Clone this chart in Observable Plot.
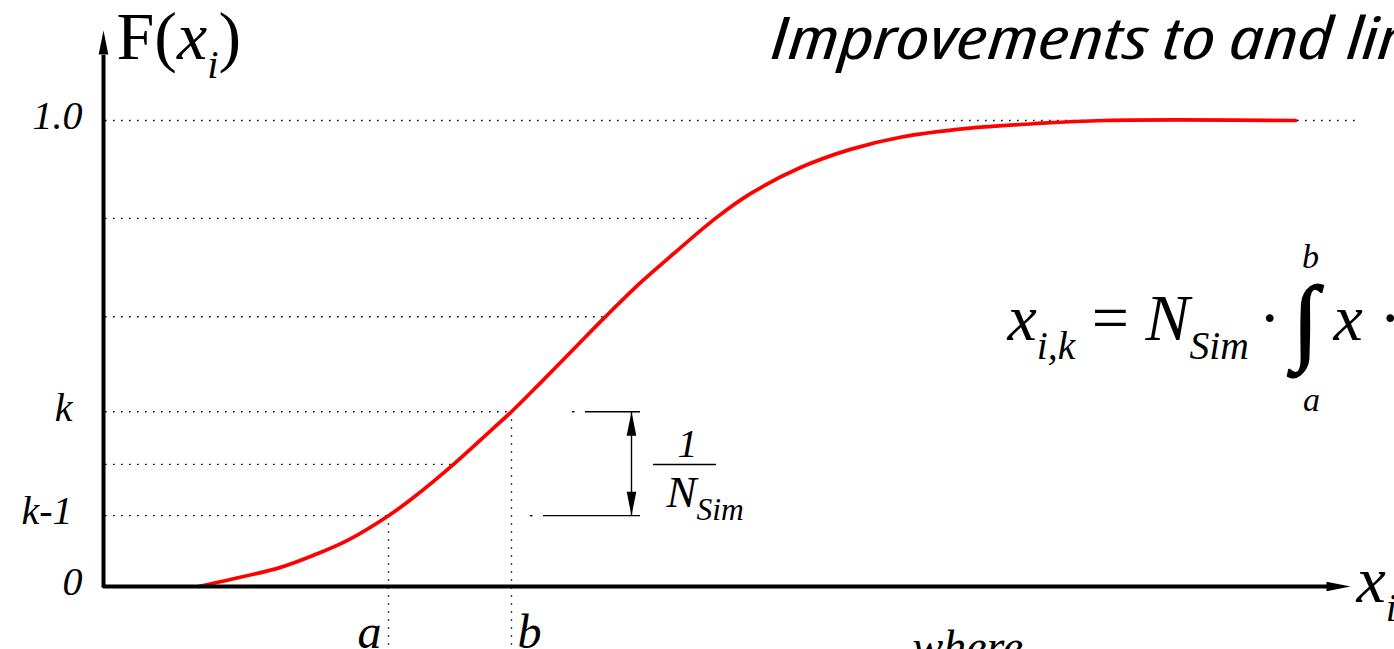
<!DOCTYPE html>
<html><head><meta charset="utf-8">
<script src="https://cdn.jsdelivr.net/npm/d3@7"></script>
<script src="https://cdn.jsdelivr.net/npm/@observablehq/plot@0.6"></script>
<style>
html,body{margin:0;padding:0;background:#fff;overflow:hidden;}
#chart{width:1394px;height:649px;}
svg text{white-space:pre;}
</style></head><body><div id="chart"></div>
<script>
// ---- data ----
// CDF curve F(x_i)
const curveX = [0.95, 1.27, 1.77, 2.10, 2.44, 2.85, 3.10, 3.50, 3.87, 4.08, 4.37, 4.70, 5.02, 5.37, 5.70, 6.12, 6.47, 6.97, 7.47, 7.97, 8.64, 9.30, 10.0, 11.92];
const curveF = [0, 0.015, 0.041, 0.067, 0.099, 0.152, 0.191, 0.262, 0.334, 0.375, 0.437, 0.509, 0.579, 0.652, 0.714, 0.790, 0.843, 0.899, 0.938, 0.964, 0.983, 0.993, 1.0, 1.0];
// dotted horizontal levels and where each ends
const levelF = [1.0, 0.790, 0.579, 0.375, 0.262, 0.152];
const levelEndX = [12.57, 6.12, 5.02, 4.08, 3.50, 2.85];
// y tick labels
const tickF = [1.0, 0.375, 0.152, 0];
const tickLabels = ["1.0", "k", "k-1", "0"];
// interval bounds on x
const boundX = [2.85, 4.08];
const boundF = [0.152, 0.375];
const boundLabels = ["a", "b"];
// 1/N_Sim measurement
const measureX = 5.28;
const measureTickF = [0.375, 0.152];
const measureTickStart = [4.82, 4.40];
const measureTickEnd = [5.37, 5.37];
const strayDotX = [4.69, 4.27];
// texts
const titleText = "Improvements to and lin";
const yAxisLabel = "F(<i>x</i><sub>i</sub>)";
const xAxisLabel = "<i>x</i><sub>i</sub>";
const formulaLeft = "<i>x</i><sub>i,k</sub> = <i>N</i><sub>Sim </sub>·";
const formulaRight = "<i>x</i> ·";
const fracTop = "1";
const fracBottom = "<i>N</i><sub>Sim</sub>";
const whereText = "where";

const curve = curveX.map((x, i) => ({x, f: curveF[i]}));
const levels = levelF.map((f, i) => ({f, end: levelEndX[i]}));
const ticks = tickF.map((f, i) => ({f, label: tickLabels[i]}));
const bounds = boundX.map((x, i) => ({x, f: boundF[i], label: boundLabels[i]}));
const mticks = measureTickF.map((f, i) => ({f, x1: measureTickStart[i], x2: measureTickEnd[i], dot: strayDotX[i]}));

const serif = "Liberation Serif, Times New Roman, serif";
const titleFont = "Open Sans, sans-serif";
const dotted = {stroke: "#000", strokeWidth: 1.4, strokeDasharray: "1.6,6.4"};
const head = {draw(ctx) { ctx.moveTo(0, 0); ctx.lineTo(-4.8, 24); ctx.lineTo(4.8, 24); ctx.closePath(); }};
const one = [0];
const txt = (s, opts) => Plot.text([s], {text: d => d, textAnchor: "start", lineAnchor: "bottom", fill: "#000", ...opts});
const tickStyle = {x: () => 0, y: "f", text: "label", textAnchor: "end", dy: -4, fontSize: 40, fontStyle: "italic", fill: "#000"};

const svg = Plot.plot({
  width: 1394, height: 649,
  marginTop: 0, marginRight: 0, marginBottom: 0, marginLeft: 0,
  x: {domain: [-1.03, 12.91], range: [0, 1394], axis: null},
  y: {domain: [0, 1], range: [586, 120], axis: null},
  style: {background: "transparent", overflow: "visible"},
  marks: [
    Plot.ruleY(levels, {y: "f", x1: () => 0.02, x2: "end", ...dotted}),
    Plot.ruleX(bounds, {x: "x", y1: "f", y2: () => -0.14, ...dotted}),
    Plot.line(curve, {x: "x", y: "f", stroke: "#ff0000", strokeWidth: 3.7, curve: "catmull-rom"}),
    // axes
    Plot.ruleY(one, {y: () => 0, x1: () => 0, x2: () => 12.3, stroke: "#000", strokeWidth: 4}),
    Plot.ruleX(one, {x: () => 0, y1: () => -0.004, y2: () => 1.14, stroke: "#000", strokeWidth: 4}),
    Plot.dot(one, {x: () => 0, y: () => 1.193, symbol: head, fill: "#000", stroke: "none"}),
    Plot.dot(one, {x: () => 12.47, y: () => 0, symbol: head, rotate: 90, fill: "#000", stroke: "none"}),
    // y tick labels
    Plot.text(ticks.filter(d => !d.label.startsWith("k")), {...tickStyle, dx: -21}),
    Plot.text(ticks.filter(d => d.label.startsWith("k")), {...tickStyle, dx: -31}),
    // a, b labels
    Plot.text(bounds.filter(d => d.label === "a"), {x: "x", y: () => -0.131, text: "label", textAnchor: "end", dx: -7, lineAnchor: "bottom", fontSize: 48, fontStyle: "italic", fill: "#000"}),
    Plot.text(bounds.filter(d => d.label === "b"), {x: "x", y: () => -0.131, text: "label", textAnchor: "start", dx: 6, lineAnchor: "bottom", fontSize: 48, fontStyle: "italic", fill: "#000"}),
    // measurement 1/N_Sim
    Plot.ruleY(mticks, {y: "f", x1: "x1", x2: "x2", stroke: "#000", strokeWidth: 1.4}),
    Plot.ruleY(mticks, {y: "f", x1: "dot", x2: d => d.dot + 0.025, stroke: "#000", strokeWidth: 1.4}),
    Plot.ruleX(one, {x: () => measureX, y1: () => 0.152, y2: () => 0.375, stroke: "#000", strokeWidth: 1.4}),
    Plot.dot(one, {x: () => measureX, y: () => 0.375, symbol: head, fill: "#000", stroke: "none"}),
    Plot.dot(one, {x: () => measureX, y: () => 0.152, symbol: head, rotate: 180, fill: "#000", stroke: "none"}),
    Plot.ruleY(one, {y: () => 0.262, x1: () => 5.50, x2: () => 6.13, stroke: "#000", strokeWidth: 1.5}),
    txt(fracTop, {x: () => 5.84, y: () => 0.277, textAnchor: "middle", fontSize: 40, fontStyle: "italic"}),
    txt(fracBottom, {x: () => 5.63, y: () => 0.170, fontSize: 45}),
    // axis labels
    txt(yAxisLabel, {x: () => 0.13, y: () => 1.133, fontSize: 68}),
    txt(xAxisLabel, {x: () => 12.53, y: () => -0.034, fontSize: 66}),
    // formula
    txt(formulaLeft, {x: () => 9.04, y: () => 0.528, fontSize: 66}),
    txt("∫", {x: () => 12.02, y: () => 0.503, textAnchor: "middle", fontSize: 95, stroke: "#000", strokeWidth: 1.6}),
    txt("b", {x: () => 12.07, y: () => 0.684, textAnchor: "middle", fontSize: 34, fontStyle: "italic"}),
    txt("a", {x: () => 12.08, y: () => 0.376, textAnchor: "middle", fontSize: 34, fontStyle: "italic"}),
    txt(formulaRight, {x: () => 12.30, y: () => 0.528, fontSize: 66}),
    // title and footer text
    txt(titleText, {x: () => 6.68, y: () => 1.133, fontSize: 59, fontStyle: "italic"}),
    txt(whereText, {x: () => 8.09, y: () => -0.161, fontSize: 46, fontStyle: "italic"})
  ]
});
document.getElementById("chart").appendChild(svg);

// fonts set inline on each text
svg.querySelectorAll("text").forEach(t => {
  if (t.textContent === titleText) {
    t.style.fontFamily = titleFont;
    t.style.fontStretch = "87.5%";
    t.setAttribute("textLength", 640);
    t.setAttribute("lengthAdjust", "spacingAndGlyphs");
  } else {
    t.style.fontFamily = serif;
  }
});

// turn the small markup into tspans (italic / subscript)
const subScale = new Map([[fracBottom, 0.7]]);
function richify(root) {
  root.querySelectorAll("text").forEach(t => {
    const s = t.textContent;
    if (!s.includes("<")) return;
    const fs = parseFloat(getComputedStyle(t).fontSize) || 16;
    const k = subScale.get(s) || 0.6;
    while (t.firstChild) t.removeChild(t.firstChild);
    const re = /<(i|sub|sup)>([\s\S]*?)<\/\1>|([^<]+)/g;
    let m, cur = 0;
    while ((m = re.exec(s))) {
      const ts = document.createElementNS("http://www.w3.org/2000/svg", "tspan");
      let shift = 0;
      if (m[3] !== undefined) {
        ts.textContent = m[3];
      } else {
        ts.textContent = m[2];
        if (m[1] === "i") ts.style.fontStyle = "italic";
        if (m[1] === "sub") { ts.style.fontStyle = "italic"; ts.style.fontSize = (fs * k).toFixed(1) + "px"; shift = fs * 0.28; }
        if (m[1] === "sup") { ts.style.fontSize = (fs * k).toFixed(1) + "px"; shift = -fs * 0.4; }
      }
      if (shift !== cur) ts.setAttribute("dy", (shift - cur).toFixed(1));
      cur = shift;
      t.appendChild(ts);
    }
  });
}
richify(svg);
</script>
</body></html>
